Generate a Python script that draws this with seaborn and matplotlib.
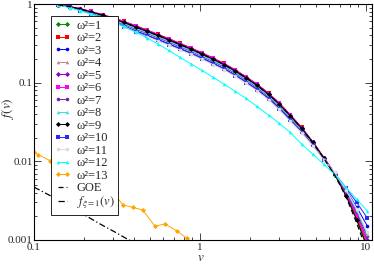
import matplotlib

matplotlib.use("Agg")

import matplotlib.pyplot as plt
import matplotlib.ticker as mticker
import numpy as np
import seaborn as sns

sns.set_style("ticks")
plt.rcParams["font.family"] = ["Liberation Serif", "DejaVu Serif"]
plt.rcParams["mathtext.fontset"] = "stix"

# common v grid of the omega^2 = 1..12 curves
v_grid = [0.14, 0.165, 0.19, 0.22, 0.26, 0.30, 0.35, 0.41, 0.48, 0.56,
          0.65, 0.76, 0.88, 1.03, 1.20, 1.40, 1.63, 1.90, 2.20, 2.60,
          3.00, 3.50, 4.10, 4.80, 5.60, 6.50, 7.60, 8.80, 10.2]

# log10 f(v)
log_f_w1 = [-0.010, -0.034, -0.062, -0.096, -0.139, -0.178, -0.226, -0.280, -0.335, -0.390,
            -0.445, -0.505, -0.560, -0.625, -0.690, -0.760, -0.840, -0.930, -1.020, -1.140,
            -1.260, -1.410, -1.572, -1.754, -1.957, -2.160, -2.420, -2.720, -3.080]
log_f_w2 = [-0.010, -0.033, -0.060, -0.093, -0.136, -0.174, -0.222, -0.275, -0.330, -0.385,
            -0.440, -0.500, -0.555, -0.620, -0.685, -0.755, -0.835, -0.925, -1.015, -1.135,
            -1.255, -1.405, -1.568, -1.751, -1.955, -2.150, -2.410, -2.700, -3.050]
log_f_w3 = [-0.010, -0.043, -0.080, -0.123, -0.175, -0.223, -0.280, -0.340, -0.395, -0.450,
            -0.505, -0.565, -0.620, -0.685, -0.750, -0.820, -0.900, -0.990, -1.080, -1.200,
            -1.320, -1.470, -1.620, -1.790, -1.975, -2.170, -2.360, -2.580, -2.820]
log_f_w4 = [-0.010, -0.036, -0.067, -0.102, -0.148, -0.189, -0.240, -0.295, -0.350, -0.405,
            -0.460, -0.520, -0.575, -0.640, -0.705, -0.775, -0.855, -0.945, -1.035, -1.155,
            -1.275, -1.425, -1.584, -1.763, -1.962, -2.160, -2.400, -2.660, -2.980]
log_f_w5 = [-0.010, -0.037, -0.068, -0.105, -0.151, -0.193, -0.244, -0.300, -0.355, -0.410,
            -0.465, -0.525, -0.580, -0.645, -0.710, -0.780, -0.860, -0.950, -1.040, -1.160,
            -1.280, -1.430, -1.588, -1.766, -1.963, -2.160, -2.400, -2.670, -3.000]
log_f_w6 = [-0.010, -0.033, -0.061, -0.095, -0.138, -0.176, -0.224, -0.278, -0.333, -0.388,
            -0.443, -0.503, -0.558, -0.623, -0.688, -0.758, -0.838, -0.928, -1.018, -1.138,
            -1.258, -1.408, -1.570, -1.753, -1.956, -2.150, -2.400, -2.680, -3.020]
log_f_w7 = [-0.010, -0.040, -0.074, -0.114, -0.163, -0.208, -0.262, -0.320, -0.375, -0.430,
            -0.485, -0.545, -0.600, -0.665, -0.730, -0.800, -0.880, -0.970, -1.060, -1.180,
            -1.300, -1.450, -1.604, -1.778, -1.969, -2.160, -2.380, -2.640, -2.950]
log_f_w8 = [-0.010, -0.038, -0.071, -0.109, -0.157, -0.200, -0.253, -0.310, -0.365, -0.420,
            -0.475, -0.535, -0.590, -0.655, -0.720, -0.790, -0.870, -0.960, -1.050, -1.170,
            -1.290, -1.440, -1.596, -1.772, -1.966, -2.150, -2.370, -2.620, -2.920]
log_f_w9 = [-0.010, -0.035, -0.065, -0.100, -0.145, -0.185, -0.235, -0.290, -0.345, -0.400,
            -0.455, -0.515, -0.570, -0.635, -0.700, -0.770, -0.850, -0.940, -1.030, -1.150,
            -1.270, -1.420, -1.580, -1.760, -1.960, -2.170, -2.440, -2.740, -3.100]
log_f_w10 = [-0.010, -0.044, -0.083, -0.127, -0.181, -0.230, -0.289, -0.350, -0.405, -0.460,
             -0.515, -0.575, -0.630, -0.695, -0.760, -0.830, -0.910, -1.000, -1.090, -1.210,
             -1.330, -1.480, -1.628, -1.796, -1.978, -2.150, -2.340, -2.520, -2.720]
log_f_w11 = [-0.010, -0.046, -0.086, -0.132, -0.187, -0.238, -0.298, -0.360, -0.415, -0.470,
             -0.525, -0.585, -0.640, -0.705, -0.770, -0.840, -0.920, -1.010, -1.100, -1.220,
             -1.340, -1.490, -1.636, -1.802, -1.981, -2.140, -2.360, -2.600, -2.900]
log_f_w12 = [-0.010, -0.045, -0.085, -0.125, -0.175, -0.225, -0.285, -0.355, -0.430, -0.510,
             -0.590, -0.680, -0.760, -0.845, -0.930, -1.020, -1.110, -1.200, -1.300, -1.413,
             -1.515, -1.632, -1.780, -1.910, -2.040, -2.170, -2.330, -2.480, -2.630]
log_f_goe = [-0.010, -0.035, -0.065, -0.100, -0.145, -0.185, -0.235, -0.290, -0.345, -0.400,
             -0.455, -0.515, -0.570, -0.635, -0.700, -0.770, -0.850, -0.940, -1.030, -1.150,
             -1.270, -1.420, -1.580, -1.765, -1.965, -2.175, -2.450, -2.780, -3.150]

v_w13 = [0.100, 0.106, 0.125, 0.15, 0.18, 0.22, 0.26, 0.299, 0.343, 0.394,
         0.453, 0.535, 0.616, 0.728, 0.835, 0.92]
f_w13 = [0.0130, 0.0122, 0.0102, 0.0085, 0.0068, 0.0056, 0.0048, 0.0041, 0.0028, 0.0026,
         0.0024, 0.0015, 0.0016, 0.0013, 0.00105, 0.00085]

v_xi1 = [0.10, 0.15, 0.20, 0.25, 0.30, 0.35, 0.40]
f_xi1 = [0.0047, 0.0030, 0.0021, 0.0016, 0.0013, 0.00108, 0.00093]

series = [
    ("ω²=1", log_f_w1, "#008b00", "D"),
    ("ω²=2", log_f_w2, "#ff0000", "s"),
    ("ω²=3", log_f_w3, "#0000ff", "o"),
    ("ω²=4", log_f_w4, "#bc8f8f", "^"),
    ("ω²=5", log_f_w5, "#9400d3", "D"),
    ("ω²=6", log_f_w6, "#ff00ff", "s"),
    ("ω²=7", log_f_w7, "#7221bc", "o"),
    ("ω²=8", log_f_w8, "#40e0d0", "^"),
    ("ω²=9", log_f_w9, "#000000", "D"),
    ("ω²=10", log_f_w10, "#2828ff", "s"),
    ("ω²=11", log_f_w11, "#dcdcdc", "o"),
    ("ω²=12", log_f_w12, "#00ffff", "^"),
]

fig = plt.figure(figsize=(3.74, 2.64), dpi=100)
ax = fig.add_axes([34 / 374, 24 / 264, 338 / 374, 236 / 264])

for label, logf, color, mk in series:
    sns.lineplot(x=v_grid, y=10 ** np.array(logf), ax=ax, color=color, marker=mk,
                 markersize=2.6, markeredgewidth=0, linewidth=0.7, label=label)

sns.lineplot(x=v_w13, y=f_w13, ax=ax, color="#ffa500", marker="D",
             markersize=2.6, markeredgewidth=0, linewidth=0.7, label="ω²=13")
sns.lineplot(x=v_grid, y=10 ** np.array(log_f_goe), ax=ax, color="black",
             linewidth=0.9, linestyle=(0, (4, 2.5)), label="GOE")
sns.lineplot(x=v_xi1, y=f_xi1, ax=ax, color="black", linewidth=0.9,
             linestyle=(0, (5, 2, 1, 2)), label=r"$f_{\xi=1}(v)$")

ax.set_xscale("log")
ax.set_yscale("log")
ax.set_xlim(0.1, 10.9)
ax.set_ylim(0.001, 1)

fmt = mticker.FuncFormatter(lambda y, _: f"{y:g}")
ax.xaxis.set_major_formatter(fmt)
ax.yaxis.set_major_formatter(fmt)
ax.xaxis.set_minor_formatter(mticker.NullFormatter())
ax.yaxis.set_minor_formatter(mticker.NullFormatter())
ax.tick_params(which="both", direction="in", top=True, right=True, width=0.6,
               labelsize=8, pad=1)
ax.tick_params(axis="x", which="both", pad=2.5)
ax.tick_params(which="major", length=5)
ax.tick_params(which="minor", length=2.5)
for sp in ax.spines.values():
    sp.set_linewidth(0.8)
    sp.set_color("black")

ax.set_xlabel(r"$v$", fontsize=9.5)
ax.set_ylabel(r"$f(v)$", fontsize=9.5)
ax.xaxis.set_label_coords(0.493, -0.052)
ax.yaxis.set_label_coords(-0.052, 0.56)

leg = ax.legend(loc="upper left", bbox_to_anchor=(0.05, 0.95), borderaxespad=0,
                fontsize=9, numpoints=2, handlelength=1.3, handletextpad=0.45,
                labelspacing=0.04, borderpad=0.3, frameon=True, fancybox=False,
                edgecolor="black", framealpha=1)
leg.get_frame().set_linewidth(0.6)

fig.savefig("out.png", dpi=100)
plt.close(fig)
